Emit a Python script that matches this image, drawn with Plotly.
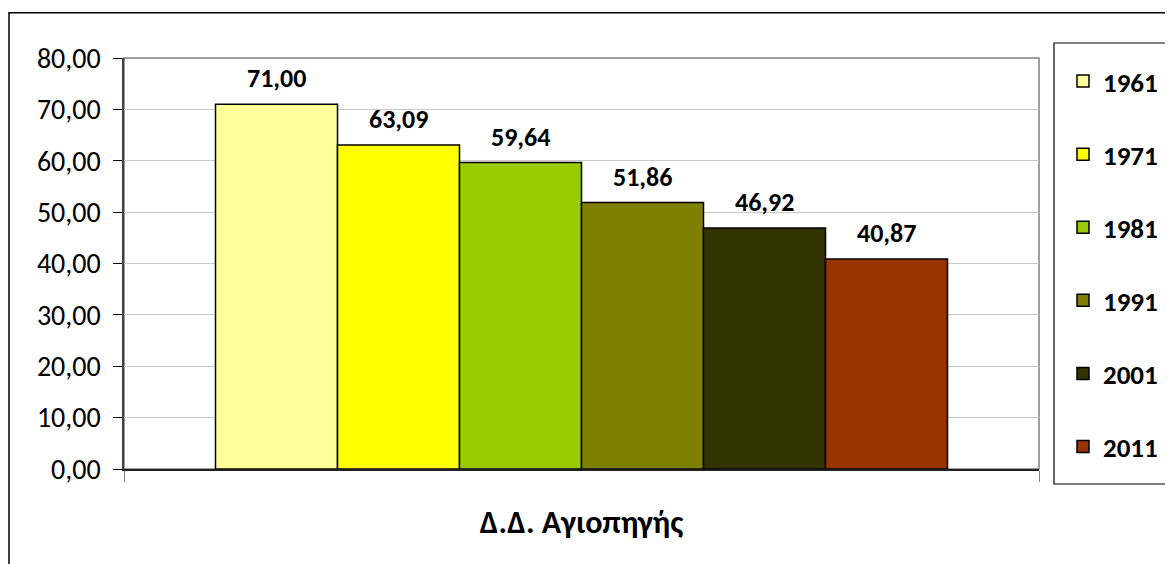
import plotly.graph_objects as go

categories = ["Δ.Δ. Αγιοπηγής"]
years = ["1961", "1971", "1981", "1991", "2001", "2011"]
values = [71.00, 63.09, 59.64, 51.86, 46.92, 40.87]
colors = ["#FFFF99", "#FFFF00", "#99CC00", "#808000", "#333300", "#993300"]
y_ticks = [0, 10, 20, 30, 40, 50, 60, 70, 80]

FONT = "Carlito, Calibri, Lato, sans-serif"
BARGAP = 0.2

fig = go.Figure()
for yr, v, c in zip(years, values, colors):
    fig.add_trace(go.Bar(
        name=yr, x=categories, y=[v],
        marker=dict(color=c, line=dict(color="#000000", width=1.5)),
        legendgroup=yr,
    ))

# value labels placed above each bar, positions derived from the group layout
n = len(values)
slot = (1 - BARGAP) / n
annotations = []
for i, v in enumerate(values):
    annotations.append(dict(
        x=-(1 - BARGAP) / 2 + slot * (i + 0.5), y=v, xref="x", yref="y",
        text="<b>" + f"{v:.2f}".replace(".", ",") + "</b>",
        showarrow=False, yanchor="middle", yshift=26,
        font=dict(family=FONT, size=26, color="#000000"),
    ))

# figure is offset 8px by the page body margin
L, R, T, B = 116, 1031, 50, 461
W, H = 1165, 556
pw, ph = R - L, B - T

fig.update_layout(
    width=W, height=H,
    margin=dict(l=L, r=W - R, t=T, b=H - B, autoexpand=False),
    paper_bgcolor="white", plot_bgcolor="white",
    separators=",.",
    barmode="group", bargap=BARGAP, bargroupgap=0,
    font=dict(family=FONT, color="#000000"),
    showlegend=True,
    legend=dict(
        x=(1055 - L) / pw, xanchor="left",
        y=(B - 49) / ph, yanchor="top",
        borderwidth=0, bgcolor="rgba(0,0,0,0)",
        font=dict(family=FONT, size=27, color="#000000", weight="bold"),
        tracegroupgap=35, maxheight=700,
    ),
    xaxis=dict(
        showgrid=False, showline=True, linecolor="#202020", linewidth=1.5,
        ticks="outside", tickson="boundaries", ticklen=11, tickcolor="#808080",
        tickfont=dict(family=FONT, size=32, color="#000000", weight="bold"),
        ticklabelstandoff=24,
    ),
    yaxis=dict(
        range=[0, 80], tickvals=y_ticks, tickformat=".2f",
        showgrid=True, gridcolor="#C8C8C8", gridwidth=1,
        showline=True, linecolor="#404040", linewidth=1.5,
        ticks="outside", ticklen=9, tickcolor="#000000",
        tickfont=dict(family=FONT, size=28, color="#000000"),
        ticklabelstandoff=7,
        zeroline=False,
    ),
    annotations=annotations,
    shapes=[
        dict(type="rect", xref="paper", yref="paper", x0=0, x1=1, y0=0, y1=1,
             line=dict(color="#808080", width=1.5), layer="below"),
        dict(type="rect", xref="paper", yref="paper",
             x0=(1 - L) / pw, x1=(W + 20 - L) / pw,
             y0=(B - (H + 20)) / ph, y1=(B - 4.7) / ph,
             line=dict(color="#000000", width=1.5), layer="below"),
        dict(type="rect", xref="paper", yref="paper",
             x0=(1046 - L) / pw, x1=(W + 20 - L) / pw,
             y0=(B - 476) / ph, y1=(B - 35) / ph,
             line=dict(color="#000000", width=1.2), layer="below"),
    ],
)

fig.write_html("out.html")
